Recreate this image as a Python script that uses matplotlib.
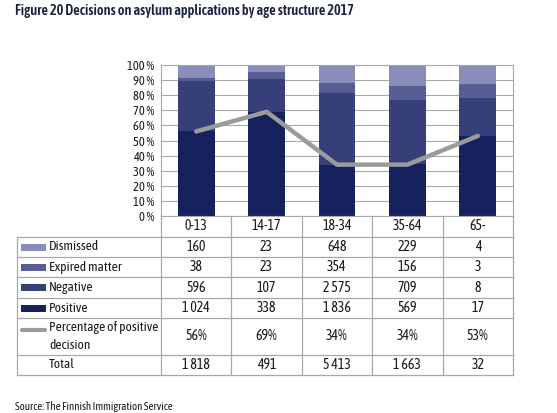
import matplotlib
matplotlib.use("Agg")
import matplotlib.pyplot as plt
from matplotlib.patches import Rectangle
import numpy as np

plt.rcParams['font.family'] = ['Asap Condensed', 'DejaVu Sans']

categories = ["0-13", "14-17", "18-34", "35-64", "65-"]
dismissed = [160, 23, 648, 229, 4]
expired = [38, 23, 354, 156, 3]
negative = [596, 107, 2575, 709, 8]
positive = [1024, 338, 1836, 569, 17]
pct_positive = [56, 69, 34, 34, 53]
totals = [1818, 491, 5413, 1663, 32]
y_ticks = [0, 10, 20, 30, 40, 50, 60, 70, 80, 90, 100]

colors = {"Dismissed": "#8a8dba", "Expired matter": "#575e93",
          "Negative": "#363f7a", "Positive": "#15225e"}
line_color = "#9b9b9b"
grid_color = "#a8a8a8"
text_color = "#1a1a1a"

W, H = 557, 413
fig = plt.figure(figsize=(W / 100, H / 100), dpi=100)

# pixel layout
ax_l, ax_r, ax_t, ax_b = 161, 513, 65, 216
ax = fig.add_axes([ax_l / W, 1 - ax_b / H, (ax_r - ax_l) / W, (ax_b - ax_t) / H])

x = np.arange(len(categories))
tot = np.array(totals, dtype=float)
stack_order = [("Positive", positive), ("Negative", negative),
               ("Expired matter", expired), ("Dismissed", dismissed)]
bottom = np.zeros(len(categories))
for name, vals in stack_order:
    share = np.array(vals) / tot * 100
    ax.bar(x, share, bottom=bottom, width=0.52, color=colors[name], zorder=2, linewidth=0)
    bottom += share

ax.plot(x, pct_positive, color=line_color, lw=3.2, solid_capstyle='round',
        solid_joinstyle='round', zorder=3)

ax.set_xlim(-0.5, len(categories) - 0.5)
ax.set_ylim(0, 100)
ax.set_yticks(y_ticks)
ax.set_yticklabels([f"{v} %" for v in y_ticks], fontsize=9, color=text_color)
ax.set_xticks([])
ax.tick_params(axis='y', length=0, pad=5)
ax.grid(axis='y', color=grid_color, lw=0.8, zorder=1)
for s in ["left", "right", "top", "bottom"]:
    ax.spines[s].set_color(grid_color)
    ax.spines[s].set_linewidth(0.8)

# title
fig.text(15 / W, 1 - 11 / H, "Figure 20 Decisions on asylum applications by age structure 2017",
         fontsize=10.3, fontweight=600, color="#1c2046", va='center', ha='left')

# table overlay
tab = fig.add_axes([0, 0, 1, 1], facecolor='none')
tab.set_xlim(0, W)
tab.set_ylim(H, 0)
tab.axis('off')

col_edges = np.linspace(ax_l, ax_r, len(categories) + 1)
col_centers = (col_edges[:-1] + col_edges[1:]) / 2
tbl_left = 17
row_edges = [216, 237, 257, 277, 298, 318, 355, 375]
lc = grid_color
lw = 0.9

# header row labels
for cx, c in zip(col_centers, categories):
    tab.text(cx, 226, c, ha='center', va='center', fontsize=10, color=text_color)
for e in col_edges:
    tab.plot([e, e], [row_edges[0], row_edges[-1]], color=lc, lw=lw)
for ry in row_edges[1:]:
    tab.plot([tbl_left, ax_r], [ry, ry], color=lc, lw=lw)
tab.plot([tbl_left, tbl_left], [row_edges[1], row_edges[-1]], color=lc, lw=lw)


def fmt(v):
    return f"{v:,}".replace(",", " ")


row_data = [
    ("Dismissed", [fmt(v) for v in dismissed]),
    ("Expired matter", [fmt(v) for v in expired]),
    ("Negative", [fmt(v) for v in negative]),
    ("Positive", [fmt(v) for v in positive]),
    ("Percentage of positive\ndecision", [f"{v}%" for v in pct_positive]),
    ("Total", [fmt(v) for v in totals]),
]

for i, (label, vals) in enumerate(row_data):
    y0, y1 = row_edges[i + 1], row_edges[i + 2]
    yc = (y0 + y1) / 2
    if label in colors:
        tab.add_patch(Rectangle((21, yc - 3.5), 25, 7, color=colors[label], lw=0))
    elif label.startswith("Percentage"):
        tab.plot([22, 45], [yc - 7, yc - 7], color=line_color, lw=3, solid_capstyle='round')
    tab.text(49, yc, label, ha='left', va='center', fontsize=9.6, color=text_color,
             linespacing=1.55)
    for cx, v in zip(col_centers, vals):
        tab.text(cx, yc, v, ha='center', va='center', fontsize=10, color=text_color)

fig.text(15 / W, 1 - 407 / H, "Source: The Finnish Immigration Service", fontsize=7.8,
         color=text_color, va='center', ha='left')

fig.savefig("out.png", dpi=100, facecolor='white')
